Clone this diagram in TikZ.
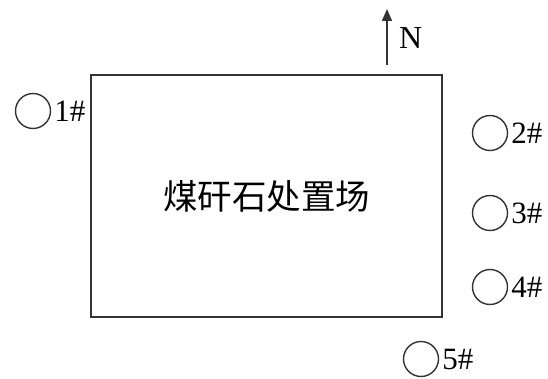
\documentclass[tikz,border=0pt]{standalone}
\usepackage{fontspec}
\setmainfont{Liberation Serif}
\newfontfamily\cjk{Noto Sans CJK SC}
\usetikzlibrary{arrows.meta}
\begin{document}
\begin{tikzpicture}[x=1pt,y=-1pt,
  well/.style={draw=black!80,line width=1.4pt,circle,minimum size=35pt,inner sep=0pt},
  wlabel/.style={anchor=west,inner sep=0pt,font=\fontsize{31}{31}\selectfont,xshift=3pt},
  site/.style={draw=black!80,line width=1.4pt,minimum width=351pt,minimum height=242pt,inner sep=0pt}]
\useasboundingbox (0,0) rectangle (548,379);
\node[site] (site) at (266.5,196) {};
\node[font=\cjk\fontsize{34.5}{34.5}\selectfont] (name) at (266.5,196) {煤矸石处置场};
\node[well] (w1) at (33,111) {};
\node[wlabel] (l1) at (w1.east) {1\#};
\node[well] (w2) at (490,133) {};
\node[wlabel] (l2) at (w2.east) {2\#};
\node[well] (w3) at (490,213) {};
\node[wlabel] (l3) at (w3.east) {3\#};
\node[well] (w4) at (490,287) {};
\node[wlabel] (l4) at (w4.east) {4\#};
\node[well] (w5) at (421,359) {};
\node[wlabel] (l5) at (w5.east) {5\#};
\coordinate (nb) at (387,65);
\coordinate (nt) at (387,9);
\draw[line width=1.4pt,black!80,-{Triangle[length=12pt,width=10pt]}] (nb) -- (nt);
\node[anchor=west,inner sep=0pt,font=\fontsize{32}{32}\selectfont] (N) at (399,38) {N};
\end{tikzpicture}
\end{document}
